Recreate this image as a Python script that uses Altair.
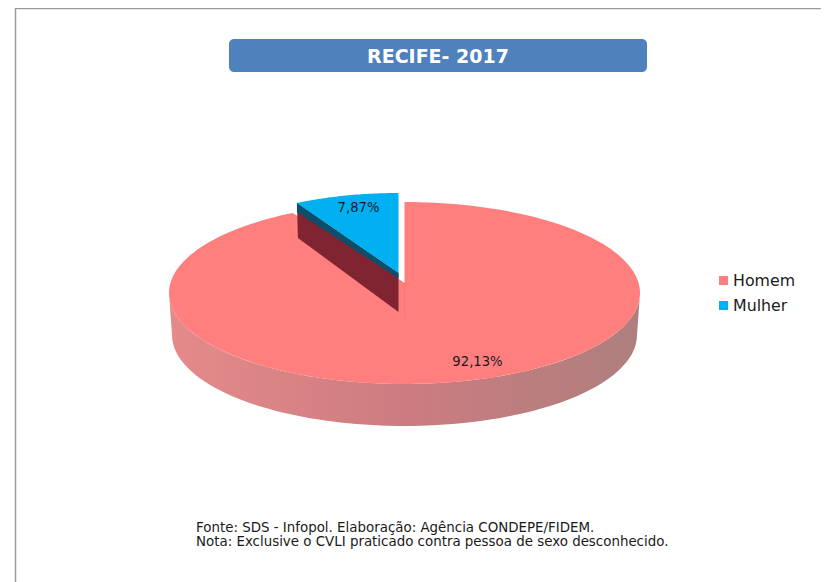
import math
import altair as alt
import pandas as pd

categories = ["Homem", "Mulher"]
shares = [92.13, 7.87]
share_labels = ["92,13%", "7,87%"]
colors = ["#FF7F7F", "#00B0F0"]
title_text = "RECIFE- 2017"
notes = ["Fonte: SDS - Infopol. Elaboração: Agência CONDEPE/FIDEM.",
         "Nota: Exclusive o CVLI praticado contra pessoa de sexo desconhecido."]
wall_stops = ["#E58A8A", "#CC7C80", "#AE7F7E"]

# visible window in page pixels
X0, X1, Y0, Y1 = 8, 821, 8, 582
FONT = "DejaVu Sans"

# projection of the pie (page pixels)
cx, cy, rx, ry = 404.5, 293, 235.5, 91
base_rx, base_cy = 232.5, 335
apex = (404.5, 283)
w_cx, w_cy, w_rx, w_ry = 398.5, 276, 214, 83
w_apex = (398.5, 273)

x_s = alt.Scale(domain=[X0, X1], range=[0, X1 - X0], nice=False, zero=False)
y_s = alt.Scale(domain=[Y1, Y0], range=[Y1 - Y0, 0], nice=False, zero=False)
X = lambda f="x": alt.X(f"{f}:Q", scale=x_s, axis=None)
Y = lambda f="y": alt.Y(f"{f}:Q", scale=y_s, axis=None)


def rim(pct, ex=cx, ey=cy, erx=rx, ery=ry):
    a = 2 * math.pi * pct / 100
    return ex + erx * math.sin(a), ey - ery * math.cos(a)


def polygon(points, fill):
    df = pd.DataFrame([{"x": p[0], "y": p[1], "i": i} for i, p in enumerate(points)])
    return alt.Chart(df).mark_line(filled=True, fill=fill, stroke=None, strokeWidth=0).encode(
        x=X(), y=Y(), order="i:Q")


def text(x, y, s, **kw):
    df = pd.DataFrame([{"x": x, "y": y, "t": s}])
    return alt.Chart(df).mark_text(font=FONT, **kw).encode(x=X(), y=Y(), text="t:N")


layers = []

# frame
layers.append(alt.Chart(pd.DataFrame([{"x": 15, "x2": X1, "y": 8.5}])).mark_rule(
    color="#9A9A9A", strokeWidth=1.5).encode(x=X(), x2="x2:Q", y=Y()))
layers.append(alt.Chart(pd.DataFrame([{"x": 15.5, "y": 8, "y2": Y1}])).mark_rule(
    color="#9A9A9A", strokeWidth=1.5).encode(x=X(), y=Y(), y2="y2:Q"))

# title box
layers.append(alt.Chart(pd.DataFrame([{"x": 229, "x2": 647, "y": 39, "y2": 72}])).mark_rect(
    color="#4F81BD", cornerRadius=5).encode(x=X(), x2="x2:Q", y=Y(), y2="y2:Q"))
layers.append(text(438, 56.5, title_text, fontSize=19, fontWeight="bold", color="#FFFFFF"))

# side wall of the pie
steps = 90
pcts = [75 - 50 * j / steps for j in range(steps + 1)]
wall = [rim(p) for p in pcts] + [rim(p, cx, base_cy, base_rx, ry) for p in reversed(pcts)]
gradient = alt.LinearGradient(
    gradient="linear", x1=0, x2=1, y1=0, y2=0,
    stops=[alt.GradientStop(offset=i / (len(wall_stops) - 1), color=c) for i, c in enumerate(wall_stops)],
)
layers.append(polygon(wall, gradient))

# Homem: top surface, with the same-coloured cut wall under the apex
homem = [apex] + [rim(i * shares[0] / 180) for i in range(181)]
layers.append(polygon(homem, colors[0]))
layers.append(polygon([(apex[0] - 6, apex[1] - 4), apex, (apex[0], 318), (apex[0] - 6, 318)], colors[0]))
layers.append(alt.Chart(pd.DataFrame([{"x": apex[0], "y": apex[1], "y2": 318}])).mark_rule(
    color="#EE7676", strokeWidth=0.8).encode(x=X(), y=Y(), y2="y2:Q"))

# Mulher: cut wall, dark rim of the cut, top surface
corner = rim(shares[0], w_cx, w_cy, w_rx, w_ry)
layers.append(polygon([corner, w_apex, (w_apex[0], 312), (corner[0] + 1, 238)], "#7F2430"))
layers.append(polygon([corner, w_apex, (w_apex[0], w_apex[1] + 5.5), (corner[0], corner[1] + 9)], "#0B4F6C"))
mulher = [w_apex] + [rim(shares[0] + i * shares[1] / 40, w_cx, w_cy, w_rx, w_ry) for i in range(41)]
layers.append(polygon(mulher, colors[1]))

# data labels
layers.append(text(477.5, 362, share_labels[0], fontSize=13.2, color="#1A1A1A"))
layers.append(text(358.5, 208, share_labels[1], fontSize=13.2, color="#1A1A1A"))

# legend
for yy, cat, col in zip([281, 306], categories, colors):
    layers.append(alt.Chart(pd.DataFrame([{"x": 719, "x2": 728, "y": yy - 5, "y2": yy + 4}])).mark_rect(
        color=col).encode(x=X(), x2="x2:Q", y=Y(), y2="y2:Q"))
    layers.append(text(733, yy, cat, fontSize=15.8, align="left", color="#1A1A1A"))

# notes
for yy, s in zip([527.5, 542], notes):
    layers.append(text(196, yy, s, fontSize=13.4, align="left", color="#1A1A1A"))

chart = alt.layer(*layers).properties(
    width=X1 - X0, height=Y1 - Y0, padding=0, background="#FFFFFF",
    autosize=alt.AutoSizeParams(type="none", contains="padding")
).configure_view(stroke=None)

chart.save("out.html", embed_options={"renderer": "svg", "actions": False})
